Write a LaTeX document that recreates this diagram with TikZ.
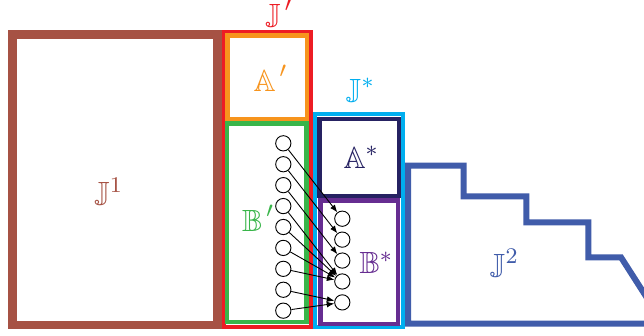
\documentclass[tikz,border=0pt]{standalone}
\usepackage{amssymb}
\usetikzlibrary{arrows.meta}
\definecolor{cBrown}{RGB}{166,82,68}
\definecolor{cRed}{RGB}{237,28,36}
\definecolor{cOrange}{RGB}{247,148,29}
\definecolor{cGreen}{RGB}{57,181,74}
\definecolor{cCyan}{RGB}{0,174,239}
\definecolor{cNavy}{RGB}{38,34,98}
\definecolor{cPurple}{RGB}{102,45,145}
\definecolor{cBlue}{RGB}{64,92,170}
\newcommand{\hiprime}{^{\,\raisebox{0.8pt}{$\scriptstyle\prime$}}}
\begin{document}
\begin{tikzpicture}[x=0.35714pt,y=-0.35714pt,
  lbl/.style={anchor=base west,inner sep=0pt,outer sep=0pt,font=\fontsize{10.95}{13}\selectfont},
  dot/.style={circle,draw=black,line width=0.33pt,minimum size=5.45pt,inner sep=0pt,fill=white},
  conn/.style={line width=0.32pt,-{Latex[length=2.7pt,width=2.1pt]}},
  frame/.style={line width=#1},
]
\useasboundingbox (0,0) rectangle (644,335);
\fill[white] (0,0) rectangle (644,335);
% J^1
\draw[cBrown,frame=3.05pt] (12.5,34.5) rectangle (217.6,325);
% J'
\draw[cRed,frame=1.5pt] (224,32) rectangle (311,327);
\draw[cOrange,frame=1.6pt] (227.5,35.5) rectangle (307,119);
\draw[cGreen,frame=1.45pt] (227,123.5) rectangle (306.5,322);
% J*
\draw[cCyan,frame=1.6pt] (315,114) rectangle (403,327);
\draw[cNavy,frame=1.6pt] (319.5,119) rectangle (399,196);
\draw[cPurple,frame=1.6pt] (320.5,200.5) rectangle (398,324);
% J^2
\draw[cBlue,frame=2.15pt] (663.5,323.7) -- (408,323.7) -- (408,165.5) -- (463.7,165.5)
  -- (463.7,196.3) -- (526.3,196.3) -- (526.3,222.3) -- (588.3,222.3)
  -- (588.3,257.3) -- (621,257.3) -- cycle;
% labels
\node[lbl,text=cBrown] (tJ1) at (94.5,203.5) {$\mathbb{J}^1$};
\node[lbl,text=cRed] (tJp) at (265.5,25) {$\mathbb{J}\hiprime$};
\node[lbl,text=cOrange] (tAp) at (253.5,91) {$\mathbb{A}\hiprime$};
\node[lbl,text=cGreen] (tBp) at (242,231) {$\mathbb{B}\hiprime$};
\node[lbl,text=cCyan] (tJs) at (346.2,100) {$\mathbb{J}^{*}$};
\node[lbl,text=cNavy] (tAs) at (343.5,168) {$\mathbb{A}^{*}$};
\node[lbl,text=cPurple] (tBs) at (359.5,273.5) {$\mathbb{B}^{*}$};
\node[lbl,text=cBlue] (tJ2) at (490.2,275) {$\mathbb{J}^2$};
% circles
\foreach \i in {1,...,9} {
  \node[dot] (l\i) at (283.3,{143.3+(\i-1)*20.92}) {};
}
\foreach \i in {1,...,5} {
  \node[dot] (r\i) at (342.3,{218.7+(\i-1)*20.92}) {};
}
% connectors
\draw[conn] (l1) -- (r1);
\draw[conn] (l2) -- (r2);
\draw[conn] (l3) -- (r3);
\draw[conn] (l4) -- (r4);
\draw[conn] (l5) -- (r4);
\draw[conn] (l6) -- (r4);
\draw[conn] (l7) -- (r4);
\draw[conn] (l8) -- (r5);
\draw[conn] (l9) -- (r5);
\end{tikzpicture}
\end{document}
